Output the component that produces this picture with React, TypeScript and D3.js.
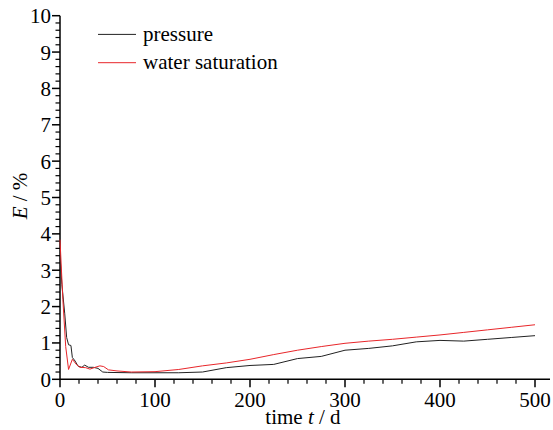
import React from 'react';
import * as d3 from 'd3';

// time (d) and error E (%)
const pressureT = [0, 2, 5, 7, 9, 11.5, 13, 16, 19, 23, 26, 30, 35, 40, 45, 50, 75, 100, 125, 150, 175, 200, 225, 250, 275, 300, 325, 350, 375, 400, 425, 450, 475, 500];
const pressureE = [3.4, 2.6, 1.8, 1.15, 0.95, 0.93, 0.6, 0.5, 0.36, 0.33, 0.39, 0.33, 0.33, 0.3, 0.2, 0.19, 0.18, 0.18, 0.18, 0.2, 0.32, 0.38, 0.41, 0.57, 0.63, 0.8, 0.85, 0.92, 1.03, 1.07, 1.05, 1.1, 1.15, 1.2];

const waterT = [0, 3, 6, 9, 13, 17.5, 21, 27, 31.5, 37, 42, 46, 51, 60, 75, 100, 125, 150, 175, 200, 225, 250, 275, 300, 325, 350, 375, 400, 425, 450, 475, 500];
const waterE = [3.84, 2.2, 0.9, 0.27, 0.55, 0.4, 0.33, 0.32, 0.28, 0.33, 0.37, 0.35, 0.26, 0.23, 0.2, 0.21, 0.27, 0.37, 0.45, 0.55, 0.68, 0.8, 0.9, 0.99, 1.05, 1.1, 1.16, 1.22, 1.29, 1.36, 1.43, 1.5];

const xMajor = [0, 100, 200, 300, 400, 500];
const yMajor = [0, 1, 2, 3, 4, 5, 6, 7, 8, 9, 10];

const legendItems = [
  { name: 'pressure', color: '#222222' },
  { name: 'water saturation', color: '#e8262a' },
];

const App = () => {
  const width = 553;
  const height = 430;
  const left = 60;
  const bottom = 379.3;

  const x = d3.scaleLinear().domain([0, 500]).range([left, 535]);
  const y = d3.scaleLinear().domain([0, 10]).range([bottom, 15.7]);

  const xMinor = d3.range(0, 511, 20).filter((v) => v % 100 !== 0);
  const yMinor = d3.range(0, 10.01, 0.2).map((v) => +v.toFixed(1)).filter((v) => Math.abs(v - Math.round(v)) > 0.01);

  const makePath = (ts: number[], es: number[]) =>
    d3
      .line<[number, number]>()
      .x((d) => x(d[0]))
      .y((d) => y(d[1]))(ts.map((t, i) => [t, es[i]]));

  const font = 'Liberation Serif';

  return (
    <svg
      width={width}
      height={height}
      style={{ position: 'absolute', left: 0, top: 0, background: '#fff' }}
      fontFamily={font}
    >
      {/* axes */}
      <line x1={left} x2={left} y1={y(10)} y2={bottom} stroke="#000" strokeWidth={1.5} />
      <line x1={left} x2={550} y1={bottom} y2={bottom} stroke="#000" strokeWidth={1.5} />

      {/* x ticks */}
      {xMajor.map((v) => (
        <g key={'xm' + v}>
          <line x1={x(v)} x2={x(v)} y1={bottom} y2={bottom + 8} stroke="#000" strokeWidth={1.5} />
          <text x={x(v)} y={407} fontSize={21} textAnchor="middle" fontFamily={font}>
            {v}
          </text>
        </g>
      ))}
      {xMinor.map((v) => (
        <line key={'xn' + v} x1={x(v)} x2={x(v)} y1={bottom} y2={bottom + 4.5} stroke="#000" strokeWidth={1.2} />
      ))}

      {/* y ticks */}
      {yMajor.map((v) => (
        <g key={'ym' + v}>
          <line x1={left - 8} x2={left} y1={y(v)} y2={y(v)} stroke="#000" strokeWidth={1.5} />
          <text x={51} y={y(v) + 7.5} fontSize={21} textAnchor="end" fontFamily={font}>
            {v}
          </text>
        </g>
      ))}
      {yMinor.map((v) => (
        <line key={'yn' + v} x1={left - 4.5} x2={left} y1={y(v)} y2={y(v)} stroke="#000" strokeWidth={1.2} />
      ))}

      {/* axis titles */}
      <text transform="translate(27,196) rotate(-90)" fontSize={21} textAnchor="middle" fontFamily={font}>
        <tspan fontStyle="italic">E</tspan>
        <tspan> / %</tspan>
      </text>
      <text x={303} y={424} fontSize={21} textAnchor="middle" fontFamily={font}>
        time <tspan fontStyle="italic">t</tspan> / d
      </text>

      {/* series */}
      <path d={makePath(pressureT, pressureE) || ''} fill="none" stroke={legendItems[0].color} strokeWidth={1} />
      <path d={makePath(waterT, waterE) || ''} fill="none" stroke={legendItems[1].color} strokeWidth={1} />

      {/* legend */}
      {legendItems.map((d, i) => (
        <g key={d.name} transform={`translate(98,${34.4 + i * 28.3})`}>
          <line x1={0} x2={38} y1={0} y2={0} stroke={d.color} strokeWidth={1} />
          <text x={45} y={6.3} fontSize={21} fontFamily={font}>
            {d.name}
          </text>
        </g>
      ))}
    </svg>
  );
};

export default App;
